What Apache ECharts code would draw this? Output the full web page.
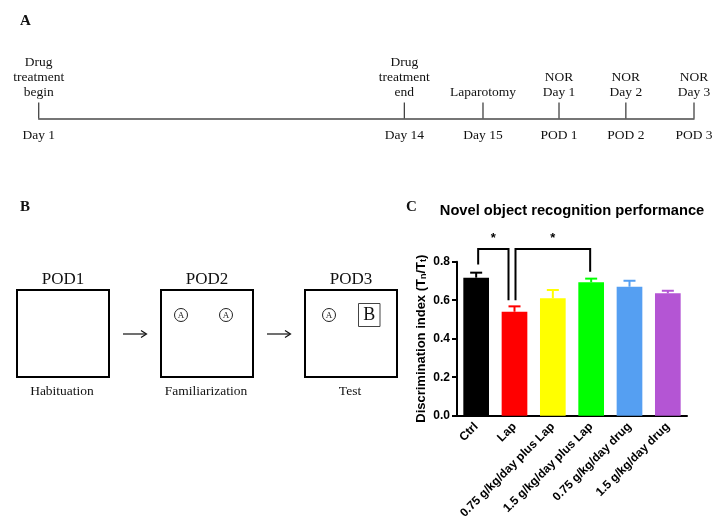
<!DOCTYPE html>
<html>
<head>
<meta charset="utf-8">
<script src="https://cdn.jsdelivr.net/npm/echarts@6.0.0/dist/echarts.min.js"></script>
<style>
  html, body { margin: 0; padding: 0; background: #fff; }
  #chart { width: 723px; height: 522px; }
</style>
</head>
<body>
<div id="chart"></div>
<script>
// panel A timeline (schematic positions along the line, 0..100)
const eventPos = [0, 55.8, 67.8, 79.4, 89.6, 100]
const eventTop = ['Drug\ntreatment\nbegin', 'Drug\ntreatment\nend', 'Laparotomy', 'NOR\nDay 1', 'NOR\nDay 2', 'NOR\nDay 3']
const eventBottom = ['Day 1', 'Day 14', 'Day 15', 'POD 1', 'POD 2', 'POD 3']

// panel C data
const groups = ['Ctrl', 'Lap', '0.75 g/kg/day plus Lap', '1.5 g/kg/day plus Lap', '0.75 g/kg/day drug', '1.5 g/kg/day drug']
const means = [0.717, 0.540, 0.610, 0.693, 0.670, 0.636]
const sem = [0.026, 0.028, 0.043, 0.019, 0.031, 0.013]
const barColors = ['#000000', '#ff0000', '#ffff00', '#00ff00', '#559ff2', '#b455d4']
const yTicks = [0, 0.2, 0.4, 0.6, 0.8]

// significance brackets: [left group, right group, left leg end, right leg end, top]
const sigPairs = [
  [0, 1, 0.786, 0.600, 0.866],
  [1, 3, 0.600, 0.748, 0.866],
]
const sigNudge = [[2, -6], [1, -1]]

const serif = '"Liberation Serif", "DejaVu Serif", serif'
const sans = '"Liberation Sans", Arial, sans-serif'

const chart = echarts.init(document.getElementById('chart'), null, { renderer: 'canvas' })

function renderEvent(params, api) {
  const p = api.coord([api.value(0), 0])
  const i = params.dataIndex
  return {
    type: 'group',
    children: [
      {
        type: 'line',
        shape: { x1: p[0], y1: p[1], x2: p[0], y2: p[1] - 16 },
        style: { stroke: '#444', lineWidth: 1.3 },
      },
      {
        type: 'text',
        style: {
          text: eventTop[i], x: p[0], y: p[1] - 18, align: 'center', verticalAlign: 'bottom',
          lineHeight: 15.3, font: '13.5px ' + serif, fill: '#111',
        },
      },
      {
        type: 'text',
        style: {
          text: eventBottom[i], x: p[0], y: p[1] + 17, align: 'center', verticalAlign: 'middle',
          font: '13.5px ' + serif, fill: '#111',
        },
      },
    ],
  }
}

function renderErr(params, api) {
  const i = params.dataIndex
  const base = api.coord([i, api.value(1)])
  const top = api.coord([i, api.value(1) + api.value(2)])
  const c = barColors[i]
  return {
    type: 'group',
    children: [
      { type: 'line', shape: { x1: base[0], y1: base[1], x2: top[0], y2: top[1] }, style: { stroke: c, lineWidth: 2 } },
      { type: 'line', shape: { x1: top[0] - 6, y1: top[1], x2: top[0] + 6, y2: top[1] }, style: { stroke: c, lineWidth: 2 } },
    ],
  }
}

function renderSig(params, api) {
  const k = params.dataIndex
  const a = api.coord([api.value(0), api.value(2)])
  const b = api.coord([api.value(1), api.value(3)])
  const t = api.coord([api.value(0), api.value(4)])[1]
  const x1 = a[0] + sigNudge[k][0]
  const x2 = b[0] + sigNudge[k][1]
  return {
    type: 'group',
    children: [
      {
        type: 'polyline',
        shape: { points: [[x1, a[1]], [x1, t], [x2, t], [x2, b[1]]] },
        style: { stroke: '#000', lineWidth: 2, fill: 'none' },
      },
      {
        type: 'text',
        style: { text: '*', x: (x1 + x2) / 2, y: t - 4, align: 'center', verticalAlign: 'bottom', font: 'bold 13px ' + sans, fill: '#000' },
      },
    ],
  }
}

// panel B diagram
const boxes = [
  { x: 17, title: 'POD1', label: 'Habituation' },
  { x: 161, title: 'POD2', label: 'Familiarization' },
  { x: 305, title: 'POD3', label: 'Test' },
]
const diagram = []
boxes.forEach(b => {
  diagram.push({ type: 'rect', shape: { x: b.x, y: 290, width: 92, height: 87 }, style: { stroke: '#000', lineWidth: 2, fill: 'none' } })
  diagram.push({ type: 'text', style: { text: b.title, x: b.x + 46, y: 280, align: 'center', verticalAlign: 'middle', font: '17px ' + serif, fill: '#111' } })
  diagram.push({ type: 'text', style: { text: b.label, x: b.x + 45, y: 391, align: 'center', verticalAlign: 'middle', font: '13.5px ' + serif, fill: '#111' } })
})
;[123, 267].forEach(x => {
  diagram.push({ type: 'line', shape: { x1: x, y1: 334, x2: x + 23, y2: 334 }, style: { stroke: '#111', lineWidth: 1.2 } })
  diagram.push({ type: 'polyline', shape: { points: [[x + 18, 330.5], [x + 23.5, 334], [x + 18, 337.5]] }, style: { stroke: '#111', lineWidth: 1.2, fill: 'none' } })
})
;[181, 226, 329].forEach(x => {
  diagram.push({ type: 'circle', shape: { cx: x, cy: 315, r: 6.5 }, style: { stroke: '#222', lineWidth: 1, fill: 'none' } })
  diagram.push({ type: 'text', style: { text: 'A', x: x, y: 315.5, align: 'center', verticalAlign: 'middle', font: '9px ' + serif, fill: '#222' } })
})
diagram.push({ type: 'rect', shape: { x: 358.5, y: 303.5, width: 21.5, height: 23 }, style: { stroke: '#444', lineWidth: 1, fill: 'none' } })
diagram.push({ type: 'text', style: { text: 'B', x: 369.3, y: 315.5, align: 'center', verticalAlign: 'middle', font: '18px ' + serif, fill: '#111' } })

const panelLetters = [
  { text: 'A', x: 20, y: 21.5 },
  { text: 'B', x: 20, y: 207.5 },
  { text: 'C', x: 406, y: 207.5 },
].map(p => ({ type: 'text', style: { text: p.text, x: p.x, y: p.y, verticalAlign: 'middle', font: 'bold 15px ' + serif, fill: '#111' } }))

chart.setOption({
  backgroundColor: '#fff',
  animation: false,
  title: {
    text: 'Novel object recognition performance',
    left: 567,
    textAlign: 'center',
    top: 198,
    textStyle: { fontFamily: sans, fontWeight: 'bold', fontSize: 14.7, color: '#000' },
  },
  graphic: panelLetters.concat(diagram),
  grid: [
    { left: 38.7, right: 29, top: 60, height: 58.5 },
    { left: 457, right: 36, top: 261.7, bottom: 106.3 },
  ],
  xAxis: [
    {
      gridIndex: 0,
      type: 'value',
      min: 0,
      max: 100,
      axisLine: { show: true, lineStyle: { color: '#4a4a4a', width: 1.5 } },
      axisTick: { show: false },
      axisLabel: { show: false },
      splitLine: { show: false },
    },
    {
      gridIndex: 1,
      type: 'category',
      data: groups,
      axisLine: { lineStyle: { color: '#000', width: 2 } },
      axisTick: { alignWithLabel: true, length: 5, lineStyle: { color: '#000', width: 2 } },
      axisLabel: { rotate: 45, margin: 9, interval: 0, fontFamily: sans, fontWeight: 'bold', fontSize: 12, color: '#000' },
    },
  ],
  yAxis: [
    { gridIndex: 0, type: 'value', min: 0, max: 1, show: false },
    {
      gridIndex: 1,
      type: 'value',
      min: 0,
      max: 0.8,
      interval: 0.2,
      name: 'Discrimination index (T{s|n}/T{s|t})',
      nameLocation: 'middle',
      nameGap: 29,
      nameTextStyle: {
        fontFamily: sans, fontWeight: 'bold', fontSize: 13, color: '#000',
        rich: { s: { fontFamily: sans, fontWeight: 'bold', fontSize: 9, color: '#000', padding: [5, 0, 0, 0] } },
      },
      axisLine: { show: true, lineStyle: { color: '#000', width: 2 } },
      axisTick: { show: true, length: 5, lineStyle: { color: '#000', width: 2 } },
      axisLabel: {
        margin: 7, fontFamily: sans, fontWeight: 'bold', fontSize: 12, color: '#000',
        formatter: v => (yTicks.includes(+v.toFixed(1)) ? v.toFixed(1) : ''),
      },
      splitLine: { show: false },
    },
  ],
  series: [
    {
      type: 'custom',
      xAxisIndex: 0,
      yAxisIndex: 0,
      renderItem: renderEvent,
      data: eventPos.map(p => [p, 0]),
      silent: true,
    },
    {
      type: 'bar',
      xAxisIndex: 1,
      yAxisIndex: 1,
      barWidth: '67%',
      data: means.map((v, i) => ({ value: v, itemStyle: { color: barColors[i] } })),
    },
    {
      type: 'custom',
      xAxisIndex: 1,
      yAxisIndex: 1,
      renderItem: renderErr,
      data: means.map((v, i) => [i, v, sem[i]]),
      z: 3,
    },
    {
      type: 'custom',
      xAxisIndex: 1,
      yAxisIndex: 1,
      renderItem: renderSig,
      data: sigPairs,
      clip: false,
      z: 4,
    },
  ],
})
</script>
</body>
</html>
